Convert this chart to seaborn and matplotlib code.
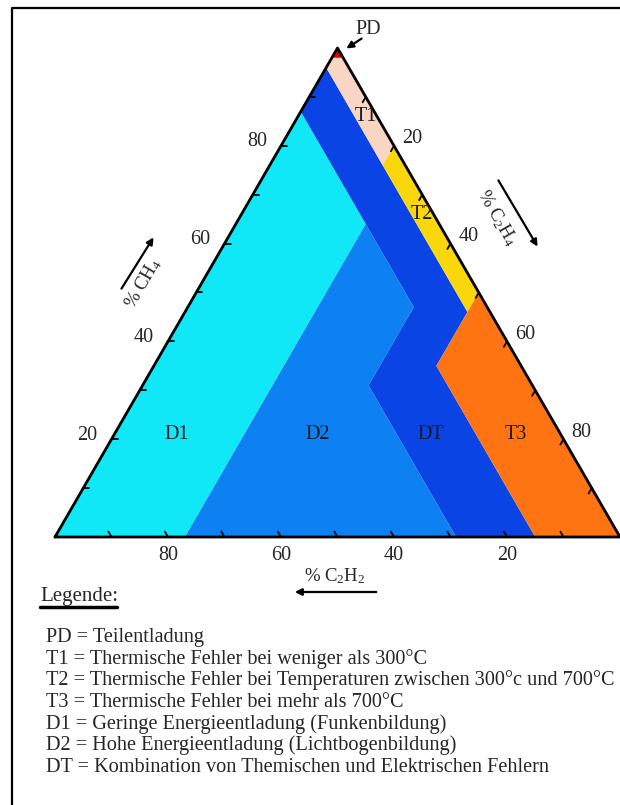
import numpy as np
import pandas as pd
import matplotlib
matplotlib.use("Agg")
import matplotlib.pyplot as plt
import seaborn as sns

# Duval triangle zones, corners given as (CH4, C2H4, C2H2) in %
zone_names = ["D1", "D2", "DT", "T1", "T2", "T3", "PD"]
zone_colors = ["#10E8F8", "#0D80F2", "#0A44E4", "#F8D6C3", "#F9D70B", "#FF7412", "#E8000A"]
zone_D1 = [(0, 0, 100), (87, 0, 13), (64, 23, 13), (0, 23, 77)]
zone_D2 = [(0, 23, 77), (64, 23, 13), (47, 40, 13), (31, 40, 29), (0, 71, 29)]
zone_DT = [(96, 0, 4), (87, 0, 13), (64, 23, 13), (47, 40, 13), (31, 40, 29),
           (0, 71, 29), (0, 85, 15), (35, 50, 15), (46, 50, 4)]
zone_T1 = [(98, 0, 2), (96, 0, 4), (76, 20, 4), (80, 20, 0), (98, 2, 0)]
zone_T2 = [(80, 20, 0), (76, 20, 4), (46, 50, 4), (50, 50, 0)]
zone_T3 = [(50, 50, 0), (35, 50, 15), (0, 85, 15), (0, 100, 0)]
zone_PD = [(98, 2, 0), (100, 0, 0), (98, 0, 2)]
zones = [zone_D1, zone_D2, zone_DT, zone_T1, zone_T2, zone_T3, zone_PD]

# label positions of the zones (CH4, C2H4, C2H2)
label_pos = {"T1": (86, 12, 2), "T2": (66, 32, 2), "D1": (21, 11, 68),
             "D2": (21, 36, 43), "DT": (21, 56, 23), "T3": (21, 71, 8)}

tick_values = [10, 20, 30, 40, 50, 60, 70, 80, 90]
tick_labels = [20, 40, 60, 80]

legend_lines = [
    "PD = Teilentladung",
    "T1 = Thermische Fehler bei weniger als 300°C",
    "T2 = Thermische Fehler bei Temperaturen zwischen 300°c und 700°C",
    "T3 = Thermische Fehler bei mehr als 700°C",
    "D1 = Geringe Energieentladung (Funkenbildung)",
    "D2 = Hohe Energieentladung (Lichtbogenbildung)",
    "DT = Kombination von Themischen und Elektrischen Fehlern",
]

H = np.sqrt(3) / 2


def tern(a, b, c):
    # a = CH4 (top), b = C2H4 (bottom right), c = C2H2 (bottom left)
    s = a + b + c
    return b / s + a / s / 2, a / s * H


sns.set_theme(style="white")
plt.rcParams["font.family"] = ["Liberation Serif", "DejaVu Serif"]
plt.rcParams["mathtext.fontset"] = "custom"
plt.rcParams["mathtext.rm"] = "Liberation Serif"
plt.rcParams["mathtext.it"] = "Liberation Serif"

W, HT = 620, 805
fig = plt.figure(figsize=(W / 100, HT / 100), dpi=100, facecolor="white")
ax = fig.add_axes([55 / W, 1 - 537 / HT, 565 / W, 489 / HT])
ax.set_xlim(0, 1)
ax.set_ylim(0, H)
ax.axis("off")

# zones
for name, col, pts in zip(zone_names, zone_colors, zones):
    xy = np.array([tern(*p) for p in pts])
    ax.fill(xy[:, 0], xy[:, 1], color=col, lw=0, zorder=1)

# outline
outline = pd.DataFrame([tern(0, 0, 100), tern(0, 100, 0), tern(100, 0, 0), tern(0, 0, 100)],
                       columns=["x", "y"])
sns.lineplot(data=outline, x="x", y="y", sort=False, estimator=None, color="black",
             lw=2, ax=ax, zorder=5, clip_on=False)
ax.set_xlabel("")
ax.set_ylabel("")

# ticks
tl = 0.011
for v in tick_values:
    # left side: CH4
    x0, y0 = tern(v, 0, 100 - v)
    ax.plot([x0, x0 + tl], [y0, y0], color="black", lw=1.3, zorder=6)
    # bottom: C2H2
    x0, y0 = tern(0, 100 - v, v)
    ax.plot([x0, x0 - 0.5 * tl], [y0, y0 + H * tl], color="black", lw=1.3, zorder=6)
    # right side: C2H4
    x0, y0 = tern(100 - v, v, 0)
    ax.plot([x0, x0 - 0.5 * tl], [y0, y0 - H * tl], color="black", lw=1.3, zorder=6)

fs = 14.5
for v in tick_labels:
    x0, y0 = tern(v, 0, 100 - v)
    ax.annotate(str(v), (x0, y0), xytext=(-14, 4), textcoords="offset pixels",
                ha="right", va="center", fontsize=fs, annotation_clip=False)
    x0, y0 = tern(0, 100 - v, v)
    ax.annotate(str(v), (x0, y0), xytext=(0, -19), textcoords="offset pixels",
                ha="center", va="center", fontsize=fs, annotation_clip=False)
    x0, y0 = tern(100 - v, v, 0)
    ax.annotate(str(v), (x0, y0), xytext=(8, 7), textcoords="offset pixels",
                ha="left", va="center", fontsize=fs, annotation_clip=False)

# zone labels
for name, p in label_pos.items():
    x0, y0 = tern(*p)
    ax.text(x0, y0, name, ha="center", va="center", fontsize=fs, color="#1a1a1a", zorder=7)

# overlay axes in pixel units for annotations
ax_over = fig.add_axes([0, 0, 1, 1], facecolor="none")
ax_over.set_xlim(0, W)
ax_over.set_ylim(HT, 0)
ax_over.axis("off")
arrow = dict(arrowstyle="-|>", color="black", lw=1.6, mutation_scale=10)

# PD label with arrow
ax_over.text(368, 29, "PD", ha="center", va="center", fontsize=fs)
ax_over.annotate("", xy=(344, 50), xytext=(364, 37), arrowprops=arrow)

# axis titles and arrows
ax_over.text(143, 283, "% CH$_4$", rotation=60, ha="center", va="center", fontsize=13.5)
ax_over.annotate("", xy=(155, 235), xytext=(120, 291), arrowprops=arrow)
ax_over.text(497, 218, "% C$_2$H$_4$", rotation=-60, ha="center", va="center", fontsize=13.5)
ax_over.annotate("", xy=(539, 249), xytext=(497, 178), arrowprops=arrow)
ax_over.text(335, 576, "% C$_2$H$_2$", ha="center", va="center", fontsize=13.5)
ax_over.annotate("", xy=(292, 592), xytext=(379, 592), arrowprops=arrow)

# legend block
ax_over.text(40, 596, "Legende:", ha="left", va="center", fontsize=15)
ax_over.plot([40, 117], [607, 607], color="black", lw=2.5)
for i, line in enumerate(legend_lines):
    ax_over.text(46, 637 + i * 21.7, line, ha="left", va="center", fontsize=14.6)

# frame (top and left visible)
ax_over.plot([12, 12, W + 5], [HT + 5, 8, 8], color="black", lw=1.6, clip_on=False)

fig.savefig("out.png", dpi=100, facecolor="white")
